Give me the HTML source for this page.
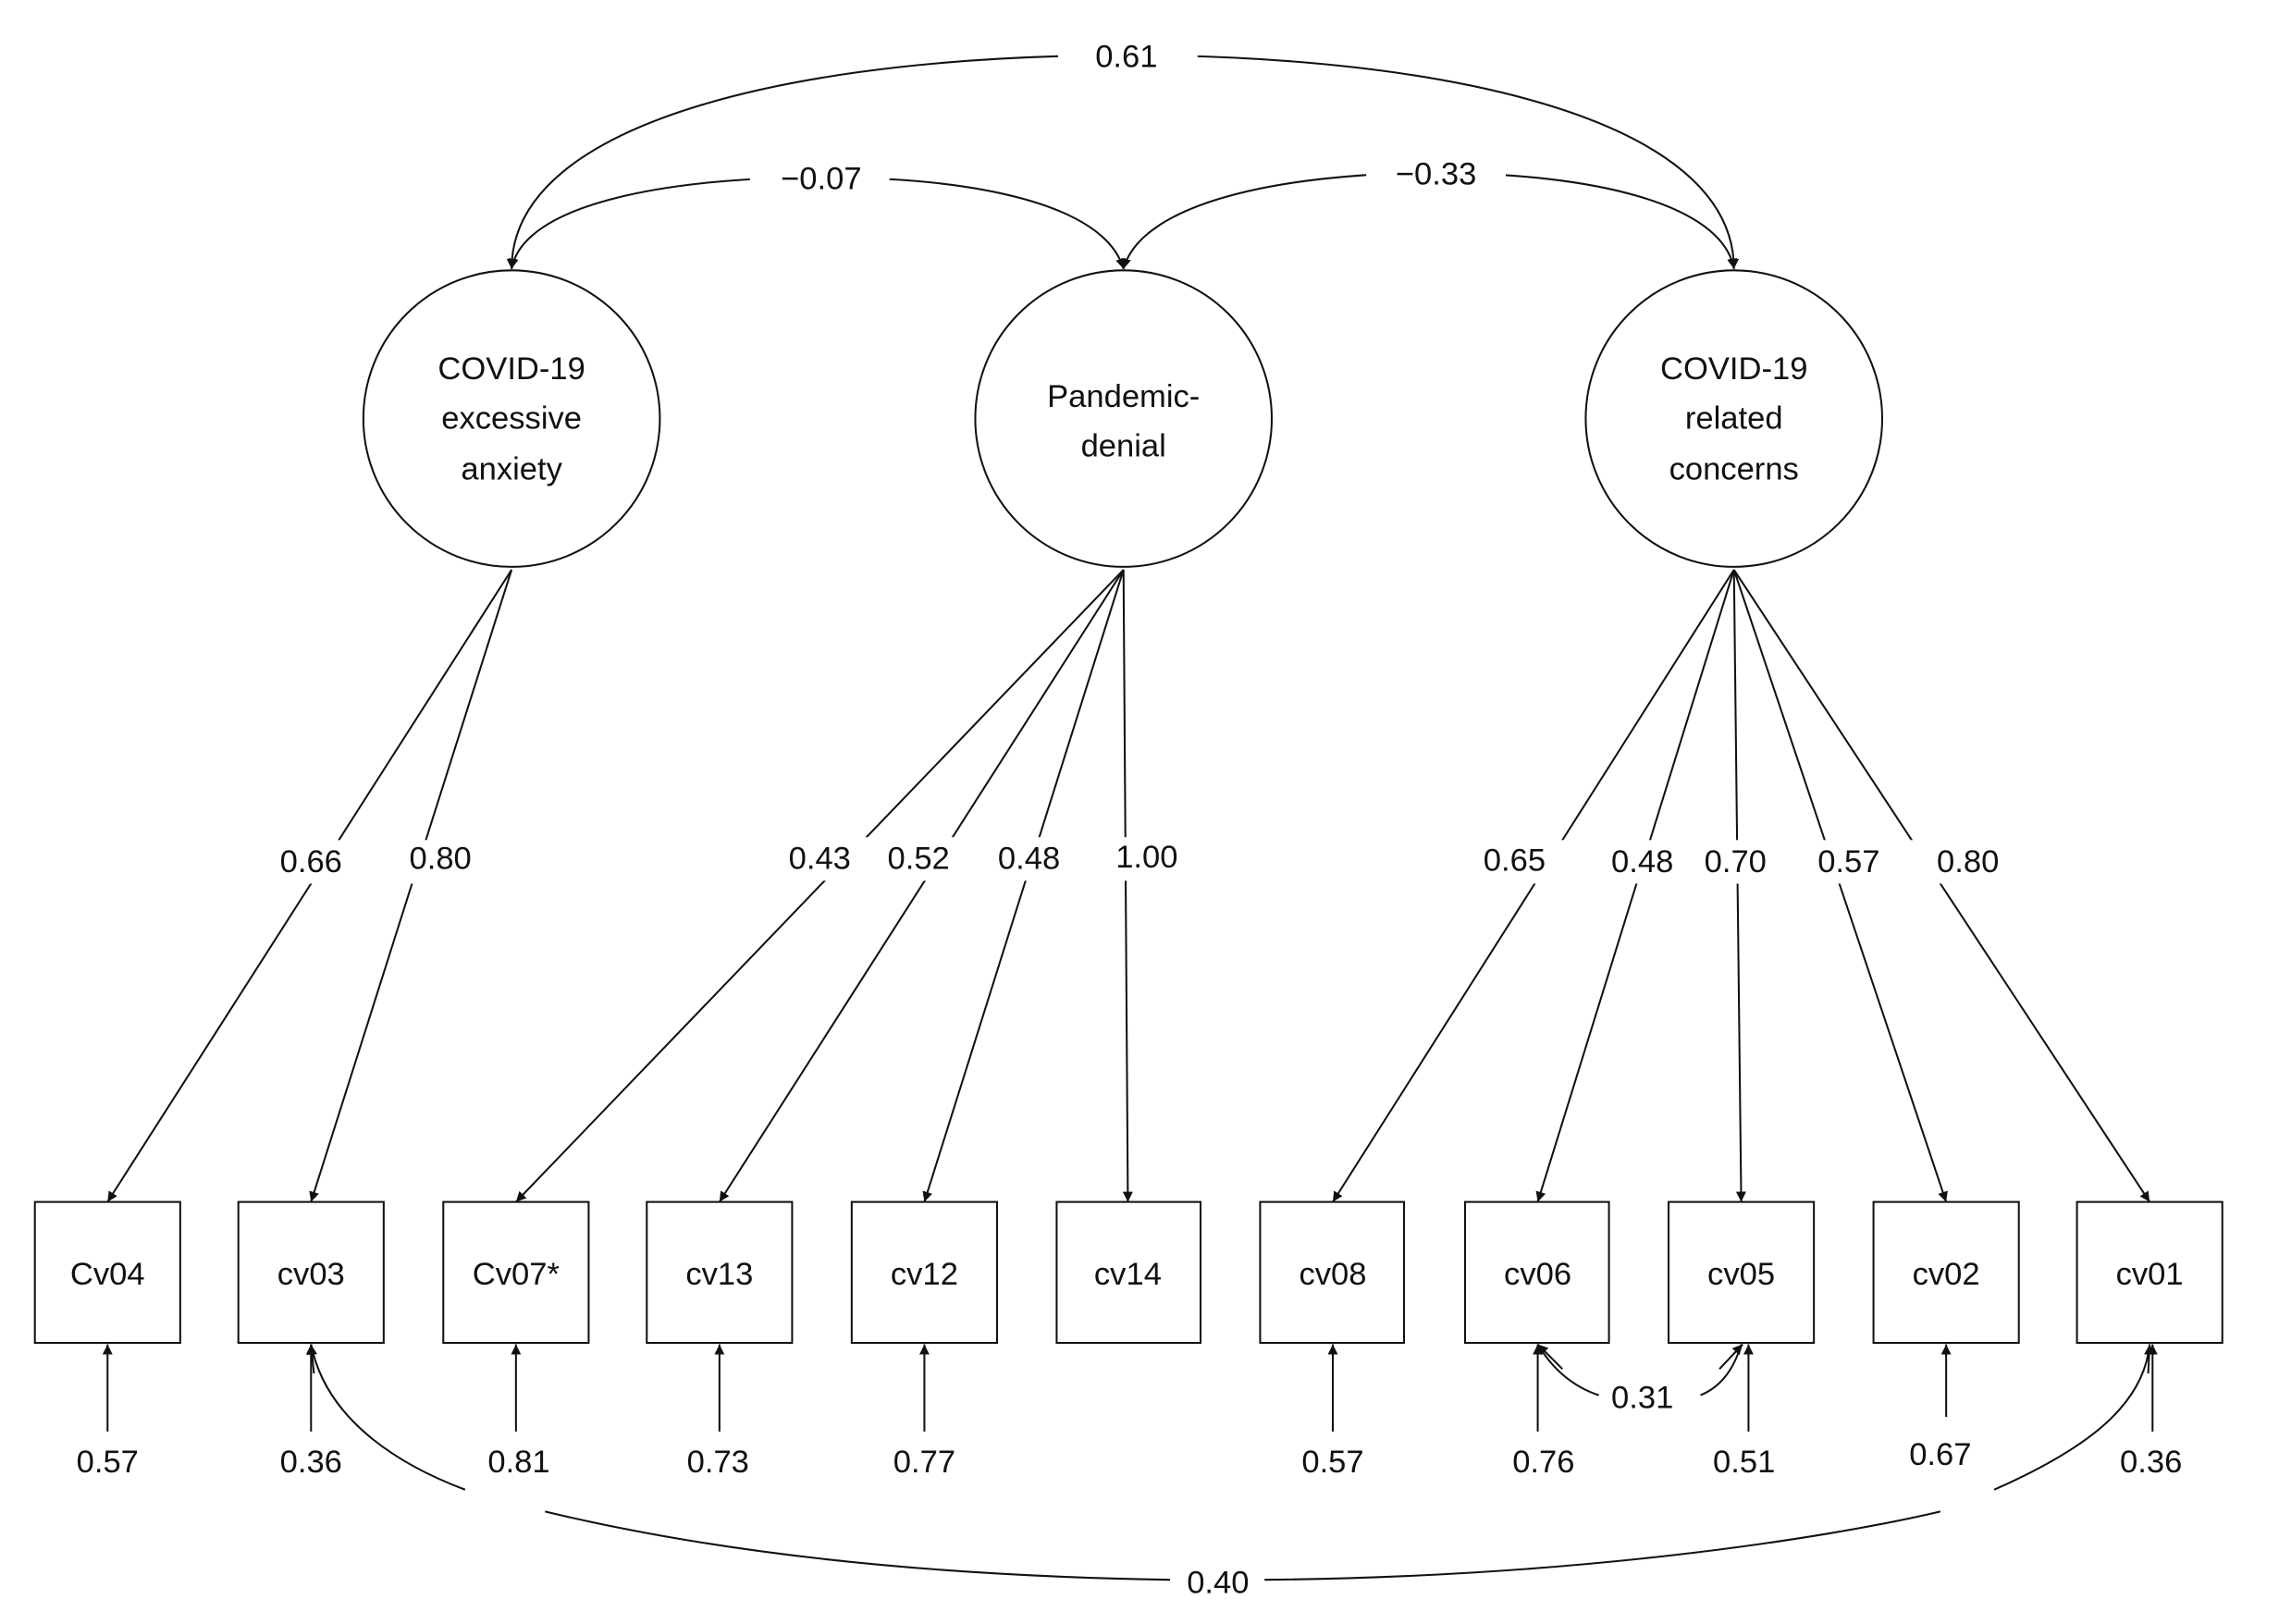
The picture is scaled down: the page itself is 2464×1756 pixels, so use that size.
<!DOCTYPE html>
<html><head><meta charset="utf-8"><style>
html,body{margin:0;padding:0;background:#fff;}
svg{display:block;}
text{font-family:"Liberation Sans",sans-serif;font-size:22px;fill:#111;text-anchor:middle;}
</style></head><body>
<svg width="2464" height="1756" viewBox="0 0 1568 1117.4" xmlns="http://www.w3.org/2000/svg">
<defs>
<marker id="a" viewBox="0 0 10 10" refX="10" refY="5" markerWidth="7" markerHeight="7" orient="auto-start-reverse" markerUnits="userSpaceOnUse"><path d="M0,0 L10,5 L0,10 z" fill="#111"/></marker>
</defs>
<g fill="none" stroke="#111" stroke-width="1.3">
<!-- top covariances -->
<path d="M352,185 C352,80 560,38 775,38 C990,38 1193,80 1193,185" marker-start="url(#a)" marker-end="url(#a)"/>
<path d="M352,185 C360,140 460,122 565,122 C670,122 760,140 773,185" marker-start="url(#a)" marker-end="url(#a)"/>
<path d="M773,185 C785,140 880,119 988,119 C1095,119 1185,140 1193,185" marker-start="url(#a)" marker-end="url(#a)"/>
<circle cx="352" cy="288" r="102"/>
<circle cx="773" cy="288" r="102"/>
<circle cx="1193" cy="288" r="102"/>
<!-- loadings -->
<line x1="352" y1="392" x2="74" y2="827" marker-end="url(#a)"/>
<line x1="352" y1="392" x2="214" y2="827" marker-end="url(#a)"/>
<line x1="773" y1="392" x2="355" y2="827" marker-end="url(#a)"/>
<line x1="773" y1="392" x2="495" y2="827" marker-end="url(#a)"/>
<line x1="773" y1="392" x2="636" y2="827" marker-end="url(#a)"/>
<line x1="773" y1="392" x2="776" y2="827" marker-end="url(#a)"/>
<line x1="1193" y1="392" x2="917" y2="827" marker-end="url(#a)"/>
<line x1="1193" y1="392" x2="1058" y2="827" marker-end="url(#a)"/>
<line x1="1193" y1="392" x2="1198" y2="827" marker-end="url(#a)"/>
<line x1="1193" y1="392" x2="1339" y2="827" marker-end="url(#a)"/>
<line x1="1193" y1="392" x2="1479" y2="827" marker-end="url(#a)"/>
<!-- boxes -->
<rect x="24" y="827" width="100" height="97"/>
<rect x="164" y="827" width="100" height="97"/>
<rect x="305" y="827" width="100" height="97"/>
<rect x="445" y="827" width="100" height="97"/>
<rect x="586" y="827" width="100" height="97"/>
<rect x="727" y="827" width="99" height="97"/>
<rect x="867" y="827" width="99" height="97"/>
<rect x="1008" y="827" width="99" height="97"/>
<rect x="1148" y="827" width="100" height="97"/>
<rect x="1289" y="827" width="100" height="97"/>
<rect x="1429" y="827" width="100" height="97"/>
<!-- errors -->
<line x1="74" y1="985" x2="74" y2="925" marker-end="url(#a)"/>
<line x1="214" y1="985" x2="214" y2="925" marker-end="url(#a)"/>
<line x1="355" y1="985" x2="355" y2="925" marker-end="url(#a)"/>
<line x1="495" y1="985" x2="495" y2="925" marker-end="url(#a)"/>
<line x1="636" y1="985" x2="636" y2="925" marker-end="url(#a)"/>
<line x1="917" y1="985" x2="917" y2="925" marker-end="url(#a)"/>
<line x1="1058" y1="985" x2="1058" y2="925" marker-end="url(#a)"/>
<line x1="1203" y1="985" x2="1203" y2="925" marker-end="url(#a)"/>
<line x1="1339" y1="975" x2="1339" y2="925" marker-end="url(#a)"/>
<line x1="1481" y1="985" x2="1481" y2="925" marker-end="url(#a)"/>
<!-- 0.31 -->
<path d="M1058,925 C1070,945 1085,955 1100,960 M1170,960 C1182,955 1192,945 1198,925" />
<line x1="1075" y1="942" x2="1058" y2="925" marker-end="url(#a)"/>
<line x1="1183" y1="942" x2="1199" y2="925" marker-end="url(#a)"/>
<!-- 0.40 -->
<path d="M214,925 C225,980 280,1010 320,1025 M375,1040 C520,1075 680,1085 805,1087 M870,1087 C1080,1085 1250,1060 1335,1040 M1372,1025 C1440,995 1475,965 1479,925"/>
<line x1="216" y1="945" x2="214" y2="925" marker-end="url(#a)"/>
<line x1="1478" y1="945" x2="1479" y2="925" marker-end="url(#a)"/>
</g>
<!-- label backgrounds -->
<g fill="#fff">
<rect x="728" y="24" width="96" height="30"/>
<rect x="516" y="108" width="96" height="30"/>
<rect x="940" y="105" width="96" height="30"/>
<rect x="180" y="578" width="140" height="30"/>
<rect x="530" y="576" width="290" height="30"/>
<rect x="1010" y="578" width="360" height="30"/>
</g>
<text x="775" y="46">0.61</text>
<text x="565" y="130">−0.07</text>
<text x="988" y="127">−0.33</text>
<text x="352" y="261">COVID-19</text>
<text x="352" y="295">excessive</text>
<text x="352" y="330">anxiety</text>
<text x="773" y="280">Pandemic-</text>
<text x="773" y="314">denial</text>
<text x="1193" y="261">COVID-19</text>
<text x="1193" y="295">related</text>
<text x="1193" y="330">concerns</text>
<text x="214" y="600">0.66</text>
<text x="303" y="598">0.80</text>
<text x="564" y="598">0.43</text>
<text x="632" y="598">0.52</text>
<text x="708" y="598">0.48</text>
<text x="789" y="597">1.00</text>
<text x="1042" y="599">0.65</text>
<text x="1130" y="600">0.48</text>
<text x="1194" y="600">0.70</text>
<text x="1272" y="600">0.57</text>
<text x="1354" y="600">0.80</text>
<text x="74" y="884">Cv04</text>
<text x="214" y="884">cv03</text>
<text x="355" y="884">Cv07*</text>
<text x="495" y="884">cv13</text>
<text x="636" y="884">cv12</text>
<text x="776" y="884">cv14</text>
<text x="917" y="884">cv08</text>
<text x="1058" y="884">cv06</text>
<text x="1198" y="884">cv05</text>
<text x="1339" y="884">cv02</text>
<text x="1479" y="884">cv01</text>
<text x="74" y="1013">0.57</text>
<text x="214" y="1013">0.36</text>
<text x="357" y="1013">0.81</text>
<text x="494" y="1013">0.73</text>
<text x="636" y="1013">0.77</text>
<text x="917" y="1013">0.57</text>
<text x="1062" y="1013">0.76</text>
<text x="1200" y="1013">0.51</text>
<text x="1335" y="1008">0.67</text>
<text x="1480" y="1013">0.36</text>
<text x="1130" y="969">0.31</text>
<text x="838" y="1096">0.40</text>
</svg>
</body></html>
